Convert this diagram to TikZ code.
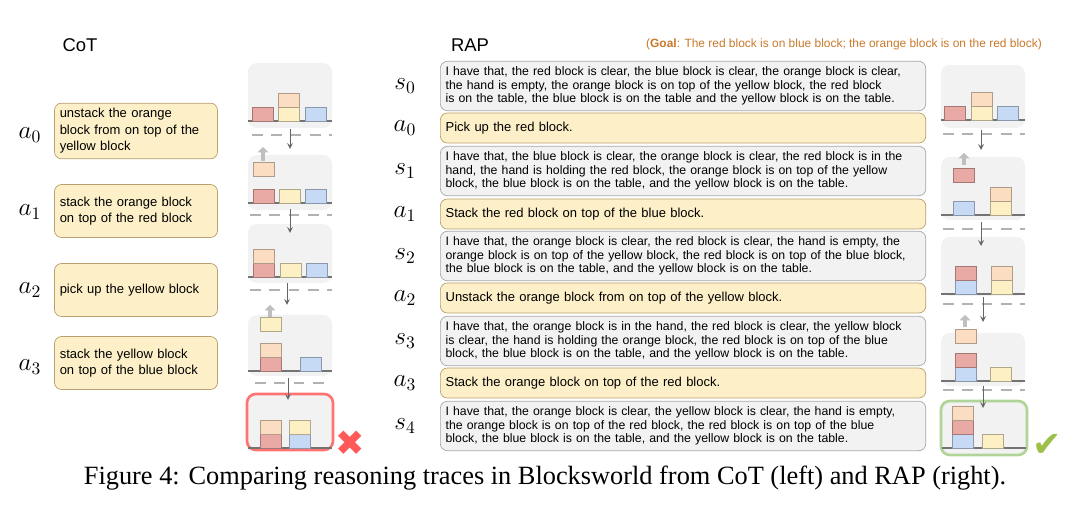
\documentclass[tikz,border=0pt]{standalone}
\usepackage{fontspec}
\setmainfont{Liberation Serif}
\setsansfont{Liberation Sans}
\newfontfamily\symfont{DejaVu Sans}
\usetikzlibrary{positioning, arrows.meta}
\definecolor{actfill}{HTML}{FDF0C8}
\definecolor{actdraw}{HTML}{B8A070}
\definecolor{stfill}{HTML}{F2F2F2}
\definecolor{redb}{HTML}{E9AAA5}
\definecolor{orab}{HTML}{FBDDC2}
\definecolor{yelb}{HTML}{FDF0C4}
\definecolor{blub}{HTML}{C7DAF5}
\definecolor{goalc}{HTML}{C8782A}
\definecolor{okc}{HTML}{9CC04A}
\definecolor{okframe}{HTML}{B0D498}
\tikzset{
  act/.style={rectangle, rounded corners=4pt, draw=actdraw, fill=actfill, align=left, font=\sffamily\fontsize{7.4}{9.4}\selectfont, inner sep=3pt},
  state/.style={rectangle, rounded corners=4pt, draw=gray!70, fill=stfill, align=left, font=\sffamily\fontsize{7.0}{7.8}\selectfont, inner sep=3pt, text width=9.5cm},
  lbl/.style={font=\fontsize{14}{14}\selectfont},
  panel/.style={rounded corners=5pt, fill=gray!10, draw=none},
  ground/.style={draw=gray!90!black, line width=0.6pt},
  sep/.style={draw=gray!60, dashed, dash pattern=on 6pt off 5pt, line width=0.7pt},
  nextarr/.style={->, >=stealth, draw=gray!80!black, line width=0.5pt},
  lift/.style={-{Triangle[length=3pt,width=6pt]}, draw=gray!50, line width=2.5pt}
}
% block with bottom-left corner at (#1,#2)
\newcommand{\blk}[3]{\fill[#3!100] (#1,#2) rectangle ++(21,-14);
  \draw[#3!70!black, line width=0.5pt] (#1,#2) rectangle ++(21,-14);}
\begin{document}
\begin{tikzpicture}[x=0.02cm, y=-0.02cm]
\useasboundingbox (0,0) rectangle (1080,506);

% headers
\node[font=\sffamily\fontsize{10.5}{12}\selectfont] (cot) at (80,45) {CoT};
\node[font=\sffamily\fontsize{10.5}{12}\selectfont] (rap) at (470,45) {RAP};
\node[font=\sffamily\fontsize{6.8}{8}\selectfont, text=goalc, anchor=east] (goal) at (1048,44) {(\textbf{Goal}: The red block is on blue block; the orange block is on the red block)};

% CoT actions
\node[act, minimum width=3.26cm, minimum height=1.06cm, text width=3.05cm] (ca0) at (136,131) {unstack the orange\\block from on top of the\\yellow block};
\node[act, minimum width=3.26cm, minimum height=1.06cm, text width=3.05cm] (ca1) at (136,211) {stack the orange block\\on top of the red block};
\node[act, minimum width=3.26cm, minimum height=1.06cm, text width=3.05cm] (ca2) at (136,290) {pick up the yellow block};
\node[act, minimum width=3.26cm, minimum height=1.06cm, text width=3.05cm] (ca3) at (136,363) {stack the yellow block\\on top of the blue block};
\node[lbl] (la0) at (30,135) {$a_0$};
\node[lbl] (la1) at (30,212) {$a_1$};
\node[lbl] (la2) at (30,290) {$a_2$};
\node[lbl] (la3) at (30,367) {$a_3$};

% CoT panels
\fill[panel] (248,63) rectangle (332,128);
\draw[ground] (248,121) -- (332,121);
\draw[sep] (252,135) -- (332,135);
\blk{252}{121}{redb} \blk{278}{121}{yelb} \blk{278}{107}{orab} \blk{305}{121}{blub}
\coordinate (c1a) at (290,129); \coordinate (c1b) at (290,149);

\fill[panel] (248,155) rectangle (332,210);
\draw[ground] (248,203) -- (332,203);
\draw[sep] (250,215) -- (332,215);
\blk{253}{203}{redb} \blk{279}{203}{yelb} \blk{305}{203}{blub} \blk{253}{176}{orab}
\draw[lift] (263,161) -- (263,147);
\coordinate (c2a) at (290,209); \coordinate (c2b) at (290,233);

\fill[panel] (248,224) rectangle (332,283);
\draw[ground] (248,277) -- (332,277);
\draw[sep] (250,290) -- (332,290);
\blk{253}{277}{redb} \blk{253}{263}{orab} \blk{280}{277}{yelb} \blk{306}{277}{blub}
\coordinate (c3a) at (287,283); \coordinate (c3b) at (287,305);

\fill[panel] (248,315) rectangle (332,376);
\draw[ground] (248,371) -- (332,371);
\draw[sep] (255,383) -- (332,383);
\blk{260}{371}{redb} \blk{260}{357}{orab} \blk{300}{371}{blub} \blk{260}{331}{yelb}
\draw[lift] (270,317) -- (270,305);
\coordinate (c4a) at (288,378); \coordinate (c4b) at (288,400);

\draw[panel, draw=red!55, line width=1.5pt] (247,394) rectangle (333,450);
\draw[ground] (248,448) -- (332,448);
\blk{260}{448}{redb} \blk{260}{434}{orab} \blk{289}{448}{blub} \blk{289}{434}{yelb}
\node[text=red!65, font=\symfont\fontsize{20}{20}\selectfont] (cross) at (350,443) {\char"2716};

\foreach \i in {1,...,4} \draw[nextarr] (c\i a) -- (c\i b);

% RAP states and actions
\node[lbl] (ls0) at (405,86) {$s_0$};
\node[lbl] (lra0) at (405,128) {$a_0$};
\node[lbl] (ls1) at (405,171) {$s_1$};
\node[lbl] (lra1) at (405,214) {$a_1$};
\node[lbl] (ls2) at (405,256) {$s_2$};
\node[lbl] (lra2) at (405,298) {$a_2$};
\node[lbl] (ls3) at (405,341) {$s_3$};
\node[lbl] (lra3) at (405,383) {$a_3$};
\node[lbl] (ls4) at (405,426) {$s_4$};

\node[state, minimum height=0.92cm, anchor=west] (s0) at (440,86) {I have that, the red block is clear, the blue block is clear, the orange block is clear,\\the hand is empty, the orange block is on top of the yellow block, the red block\\is on the table, the blue block is on the table and the yellow block is on the table.};
\node[state, act, text width=9.5cm, minimum height=0.6cm, anchor=west] (ra0) at (440,128) {Pick up the red block.};
\node[state, minimum height=0.92cm, anchor=west] (s1) at (440,171) {I have that, the blue block is clear, the orange block is clear, the red block is in the\\hand, the hand is holding the red block, the orange block is on top of the yellow\\block, the blue block is on the table, and the yellow block is on the table.};
\node[state, act, text width=9.5cm, minimum height=0.6cm, anchor=west] (ra1) at (440,214) {Stack the red block on top of the blue block.};
\node[state, minimum height=0.92cm, anchor=west] (s2) at (440,256) {I have that, the orange block is clear, the red block is clear, the hand is empty, the\\orange block is on top of the yellow block, the red block is on top of the blue block,\\the blue block is on the table, and the yellow block is on the table.};
\node[state, act, text width=9.5cm, minimum height=0.6cm, anchor=west] (ra2) at (440,298) {Unstack the orange block from on top of the yellow block.};
\node[state, minimum height=0.92cm, anchor=west] (s3) at (440,341) {I have that, the orange block is in the hand, the red block is clear, the yellow block\\is clear, the hand is holding the orange block, the red block is on top of the blue\\block, the blue block is on the table, and the yellow block is on the table.};
\node[state, act, text width=9.5cm, minimum height=0.6cm, anchor=west] (ra3) at (440,383) {Stack the orange block on top of the red block.};
\node[state, minimum height=0.92cm, anchor=west] (s4) at (440,426) {I have that, the orange block is clear, the yellow block is clear, the hand is empty,\\the orange block is on top of the red block, the red block is on top of the blue\\block, the blue block is on the table, and the yellow block is on the table.};

% RAP panels
\fill[panel] (941,65) rectangle (1025,128);
\draw[ground] (941,120) -- (1025,120);
\draw[sep] (943,134) -- (1025,134);
\blk{944}{120}{redb} \blk{971}{120}{yelb} \blk{971}{106}{orab} \blk{997}{120}{blub}
\coordinate (r1a) at (981,130); \coordinate (r1b) at (981,150);

\fill[panel] (941,157) rectangle (1025,220);
\draw[ground] (941,215) -- (1025,215);
\draw[sep] (943,229) -- (1025,229);
\blk{953}{215}{blub} \blk{990}{215}{yelb} \blk{990}{201}{orab} \blk{953}{182}{redb}
\draw[lift] (964,165) -- (964,153);
\coordinate (r2a) at (981,222); \coordinate (r2b) at (981,246);

\fill[panel] (941,237) rectangle (1025,296);
\draw[ground] (941,294) -- (1025,294);
\draw[sep] (943,304) -- (1025,304);
\blk{955}{294}{blub} \blk{955}{280}{redb} \blk{991}{294}{yelb} \blk{991}{280}{orab}
\coordinate (r3a) at (983,297); \coordinate (r3b) at (983,322);

\fill[panel] (941,333) rectangle (1025,386);
\draw[ground] (941,381) -- (1025,381);
\draw[sep] (943,390) -- (1025,390);
\blk{955}{381}{blub} \blk{955}{367}{redb} \blk{990}{381}{yelb} \blk{955}{343}{orab}
\draw[lift] (965,327) -- (965,315);
\coordinate (r4a) at (983,386); \coordinate (r4b) at (983,408);

\draw[panel, draw=okframe, line width=1.5pt] (941,401) rectangle (1027,455);
\draw[ground] (942,448) -- (1026,448);
\blk{952}{448}{blub} \blk{952}{434}{redb} \blk{952}{420}{orab} \blk{982}{448}{yelb}
\node[text=okc, font=\symfont\fontsize{20}{20}\selectfont] (tick) at (1047,445) {\char"2714};

\foreach \i in {1,...,4} \draw[nextarr] (r\i a) -- (r\i b);

% caption
\node[font=\fontsize{15}{16}\selectfont] (cap) at (545,478) {Figure 4: Comparing reasoning traces in Blocksworld from CoT (left) and RAP (right).};
\end{tikzpicture}
\end{document}
